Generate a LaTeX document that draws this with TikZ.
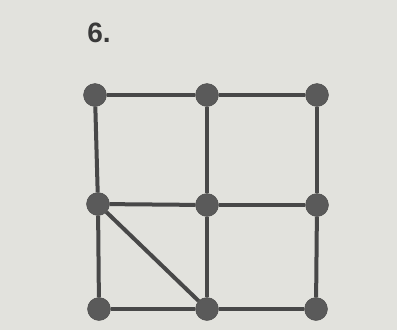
\documentclass[tikz,border=0pt]{standalone}
\usepackage{fontspec}
\setmainfont{Liberation Sans}
\definecolor{paper}{RGB}{226,226,221}
\definecolor{ink}{RGB}{72,72,72}
\tikzset{
  vertex/.style={circle, fill=ink!90, draw=ink, minimum size=23pt, inner sep=0pt},
  edge/.style={ink, line width=4pt}
}
\begin{document}
\begin{tikzpicture}[x=1pt, y=-1pt]
    % Hintergrund
    \fill[paper] (0,0) rectangle (397,330);
    \useasboundingbox (0,0) rectangle (397,330);

    % Nummer
    \node[text=ink!80!black, font=\bfseries\fontsize{28}{32}\selectfont] (nr) at (99,33) {6.};

    % Knoten
    \node[vertex] (a1) at (95,95) {};
    \node[vertex] (a2) at (207,95) {};
    \node[vertex] (a3) at (317,95) {};
    \node[vertex] (b1) at (98,204) {};
    \node[vertex] (b2) at (207,205) {};
    \node[vertex] (b3) at (317,205) {};
    \node[vertex] (c1) at (99,309) {};
    \node[vertex] (c2) at (207,309) {};
    \node[vertex] (c3) at (316,309) {};

    % Kanten
    \foreach \u/\v in {a1/a2, a2/a3, b1/b2, b2/b3, c1/c2, c2/c3,
                       a1/b1, b1/c1, a2/b2, b2/c2, a3/b3, b3/c3, b1/c2}
        \draw[edge] (\u) -- (\v);
\end{tikzpicture}
\end{document}
